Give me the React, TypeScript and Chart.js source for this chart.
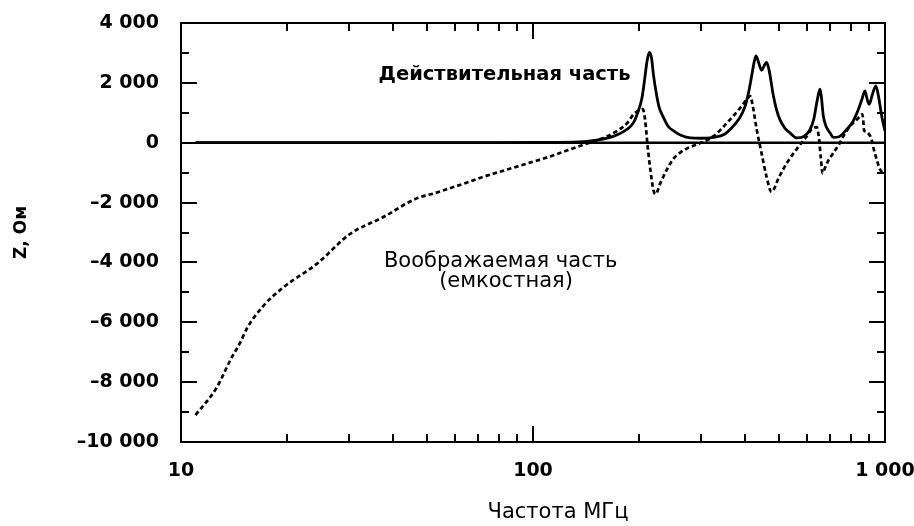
import React, { useEffect, useRef } from 'react';
import { Chart, registerables } from 'chart.js';

Chart.register(...registerables);

// ---------- data ----------
const realFreq = [11, 50, 100, 130, 150, 169, 185, 193, 199, 204, 208, 211, 214, 217, 220, 224, 228, 234, 242, 252, 265, 280, 300, 325, 350, 363, 385, 400, 410, 418, 425, 430, 437, 446, 455, 461, 468, 482, 492, 503, 520, 537, 561, 590, 612, 628, 640, 648, 654, 660, 668, 680, 698, 713, 740, 778, 810, 840, 860, 877, 890, 902, 920, 942, 960, 980, 1000];
const realValues = [0, 0, 10, 20, 80, 210, 450, 670, 1050, 1500, 2200, 2750, 3020, 2850, 2250, 1650, 1200, 880, 550, 380, 230, 160, 150, 180, 280, 440, 800, 1200, 1700, 2230, 2700, 2900, 2700, 2420, 2600, 2680, 2450, 1560, 1100, 770, 480, 330, 160, 220, 440, 800, 1340, 1650, 1790, 1500, 890, 550, 330, 180, 200, 440, 700, 1110, 1450, 1730, 1450, 1280, 1600, 1900, 1500, 850, 390];

const imagFreq = [11, 12.6, 13.9, 14.7, 15.4, 17, 19.5, 24.3, 30.2, 37.6, 46.7, 52.1, 58.1, 65, 72.3, 89.9, 111.7, 139, 150, 160, 173, 185, 193, 200, 205, 208, 212, 216, 220, 223, 230, 240, 250, 262, 275, 292, 325, 363, 390, 405, 414, 420, 432, 446, 460, 476, 500, 526, 560, 599, 625, 640, 650, 657, 665, 675, 690, 713, 740, 761, 796, 830, 849, 862, 868, 872, 880, 905, 916, 927, 947, 968, 989, 1000];
const imagValues = [-9100, -8200, -7200, -6700, -6200, -5500, -4840, -4050, -3050, -2480, -1860, -1700, -1520, -1330, -1140, -800, -460, -67, 60, 180, 390, 650, 950, 1080, 1120, 800, -200, -1000, -1600, -1720, -1350, -900, -550, -330, -180, -60, 210, 774, 1200, 1450, 1560, 1300, 440, -350, -1100, -1640, -1150, -680, -230, 212, 500, 520, 100, -500, -1020, -850, -600, -347, -60, 212, 555, 760, 885, 950, 700, 400, 380, 250, 110, -170, -560, -890, -1000, -980];

const zeroFreq = [11, 1000];
const zeroValues = [0, 0];

const xLabelValues = [10, 100, 1000];
const xLabelTexts = ['10', '100', '1 000'];
const xMinorTicks = [20, 30, 40, 50, 60, 70, 80, 90, 100, 200, 300, 400, 500, 600, 700, 800, 900];
const xMajorTicks = [100];

const yLabelValues = [-10000, -8000, -6000, -4000, -2000, 0, 2000, 4000];
const yLabelTexts = ['–10 000', '–8 000', '–6 000', '–4 000', '–2 000', '0', '2 000', '4 000'];
const yMinorTicks = [-9000, -8000, -7000, -6000, -5000, -4000, -3000, -2000, -1000, 0, 1000, 2000, 3000];
const yMajorTicks = [-8000, -6000, -4000, -2000, 0, 2000];

const xTitle = 'Частота МГц';
const yTitle = 'Z, Ом';

const realLabel = 'Действительная часть';
const realLabelAnchor = [83.0, 2095];
const imagLabelLines = ['Воображаемая часть', '(емкостная)'];
const imagLabelAnchors = [[80.9, -4143], [83.8, -4811]];

const FONT = '"DejaVu Sans", sans-serif';

const pts = (xs: number[], ys: number[]) => xs.map((x, i) => ({ x, y: ys[i] }));

const zeroPadding = (scale: any) => {
  scale.paddingLeft = 0;
  scale.paddingRight = 0;
  scale.paddingTop = 0;
  scale.paddingBottom = 0;
};

const framePlugin = {
  id: 'frameTicks',
  afterDraw(chart: any) {
    const { ctx, chartArea, scales } = chart;
    const { left, right, top, bottom } = chartArea;
    const x = scales.x;
    const y = scales.y;
    ctx.save();
    ctx.strokeStyle = '#000';
    ctx.lineWidth = 2;
    ctx.lineCap = 'butt';
    ctx.strokeRect(left, top, right - left, bottom - top);
    ctx.beginPath();
    for (const v of yMinorTicks) {
      const py = Math.round(y.getPixelForValue(v));
      const len = yMajorTicks.includes(v) ? 16 : 8;
      ctx.moveTo(left, py);
      ctx.lineTo(left + len, py);
      ctx.moveTo(right, py);
      ctx.lineTo(right - len, py);
    }
    for (const f of xMinorTicks) {
      const px = Math.round(x.getPixelForValue(f));
      const len = xMajorTicks.includes(f) ? 16 : 8;
      ctx.moveTo(px, bottom);
      ctx.lineTo(px, bottom - len);
      ctx.moveTo(px, top);
      ctx.lineTo(px, top + len);
    }
    ctx.stroke();

    // annotations
    ctx.fillStyle = '#000';
    ctx.textAlign = 'center';
    ctx.textBaseline = 'alphabetic';
    ctx.font = `bold 19.5px ${FONT}`;
    ctx.fillText(realLabel, x.getPixelForValue(realLabelAnchor[0]), y.getPixelForValue(realLabelAnchor[1]));
    ctx.font = `21px ${FONT}`;
    imagLabelLines.forEach((t, i) => {
      ctx.fillText(t, x.getPixelForValue(imagLabelAnchors[i][0]), y.getPixelForValue(imagLabelAnchors[i][1]));
    });

    // axis titles
    ctx.font = `21px ${FONT}`;
    ctx.fillText(xTitle, (left + right) / 2 + 25, bottom + 76);
    ctx.save();
    ctx.translate(22, (top + bottom) / 2);
    ctx.rotate(-Math.PI / 2);
    ctx.textBaseline = 'middle';
    ctx.font = `bold 17px ${FONT}`;
    ctx.fillText(yTitle, 0, 0);
    ctx.restore();
    ctx.restore();
  },
};

export default function App() {
  const ref = useRef<HTMLCanvasElement | null>(null);
  useEffect(() => {
    document.body.style.margin = '0';
    document.body.style.overflow = 'hidden';
    const canvas = ref.current;
    if (!canvas) return;
    const chart = new Chart(canvas, {
      type: 'line',
      data: {
        datasets: [
          {
            label: 'zero',
            data: pts(zeroFreq, zeroValues),
            borderColor: '#000',
            borderWidth: 2.5,
            pointRadius: 0,
          },
          {
            label: 'real',
            data: pts(realFreq, realValues),
            borderColor: '#000',
            borderWidth: 2.8,
            pointRadius: 0,
            cubicInterpolationMode: 'monotone',
          },
          {
            label: 'imag',
            data: pts(imagFreq, imagValues),
            borderColor: '#000',
            borderWidth: 2.7,
            borderDash: [4.5, 3],
            pointRadius: 0,
            cubicInterpolationMode: 'monotone',
          },
        ],
      },
      options: {
        responsive: false,
        animation: false,
        devicePixelRatio: 1,
        layout: { padding: { top: 23, right: 29, left: 0, bottom: 0 } },
        plugins: { legend: { display: false }, tooltip: { enabled: false }, title: { display: false } },
        scales: {
          x: {
            type: 'logarithmic',
            min: 10,
            max: 1000,
            position: 'bottom',
            grid: { display: false },
            border: { display: false },
            afterBuildTicks: (scale: any) => {
              scale.ticks = xLabelValues.map((v) => ({ value: v }));
            },
            afterFit: (scale: any) => {
              scale.height = 84;
              zeroPadding(scale);
            },
            ticks: {
              autoSkip: false,
              maxRotation: 0,
              padding: 10,
              color: '#000',
              font: { family: FONT, size: 19, weight: 'bold' },
              callback: (value: any) => {
                const i = xLabelValues.indexOf(Number(value));
                return i >= 0 ? xLabelTexts[i] : '';
              },
            },
          },
          y: {
            type: 'linear',
            min: -10000,
            max: 4000,
            position: 'left',
            grid: { display: false },
            border: { display: false },
            afterBuildTicks: (scale: any) => {
              scale.ticks = yLabelValues.map((v) => ({ value: v }));
            },
            afterFit: (scale: any) => {
              scale.width = 181;
              zeroPadding(scale);
            },
            ticks: {
              autoSkip: false,
              padding: 14,
              color: '#000',
              font: { family: FONT, size: 19, weight: 'bold' },
              callback: (value: any) => {
                const i = yLabelValues.indexOf(Number(value));
                return i >= 0 ? yLabelTexts[i] : '';
              },
            },
          },
        },
      },
      plugins: [framePlugin],
    } as any);
    return () => chart.destroy();
  }, []);
  return <canvas ref={ref} width={914} height={526} style={{ display: 'block' }} />;
}
